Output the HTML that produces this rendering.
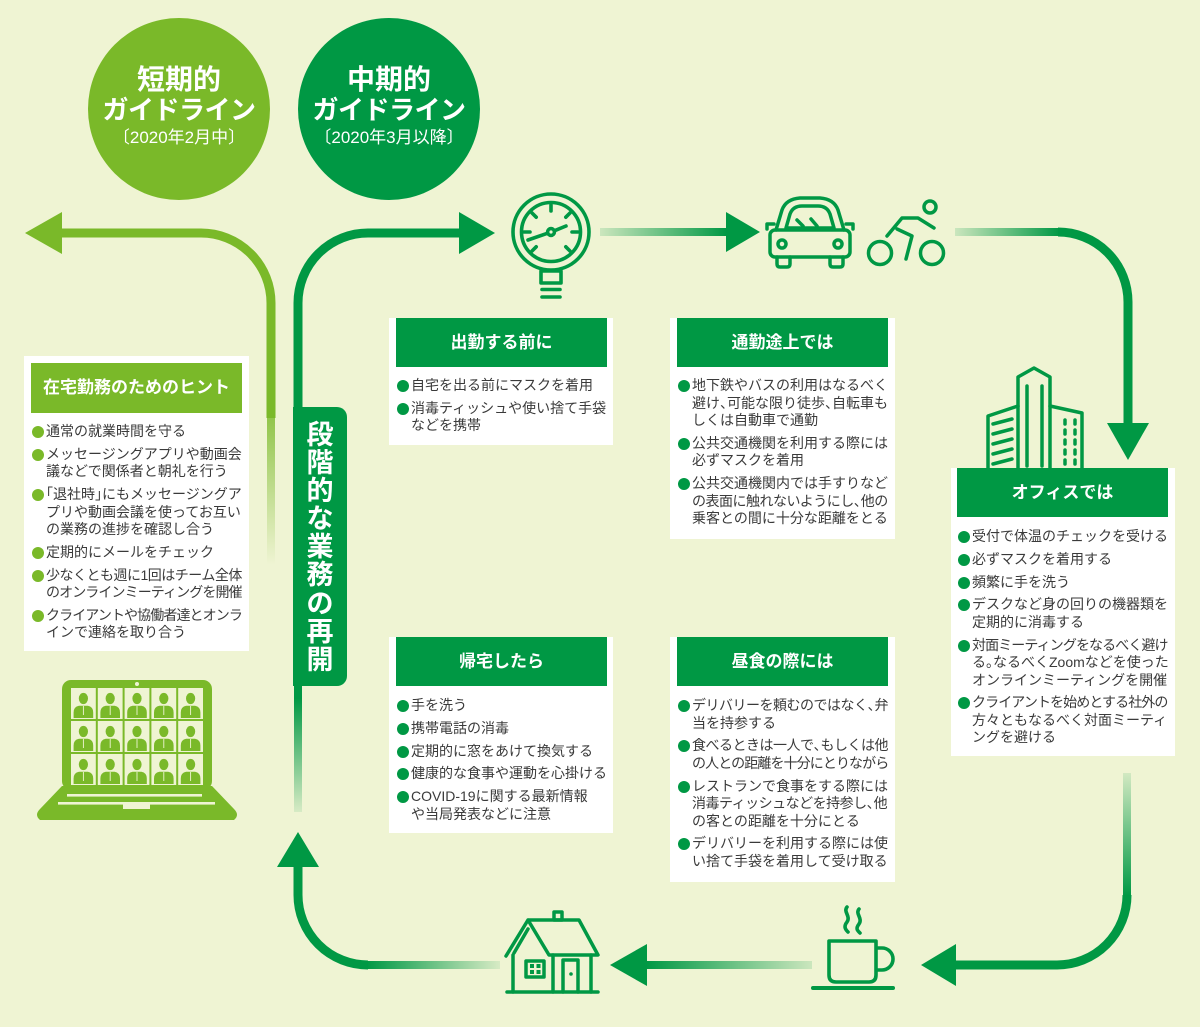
<!DOCTYPE html>
<html lang="ja">
<head>
<meta charset="utf-8">
<style>
  html,body{margin:0;padding:0;}
  body{width:1200px;height:1027px;position:relative;overflow:hidden;background:#eff4d3;
       font-family:"Liberation Sans","Noto Sans CJK JP",sans-serif;}
  svg.bg{position:absolute;left:0;top:0;}
  .ct{position:absolute;width:182px;text-align:center;color:#fff;white-space:nowrap;}
  .c1{font-size:28px;line-height:32px;font-weight:bold;top:64px;}
  .c2{font-size:26px;line-height:30px;font-weight:bold;top:95px;letter-spacing:-0.5px;}
  .c3{font-size:17px;line-height:20px;top:128px;}
  .box{position:absolute;background:#fff;}
  .hd{position:absolute;left:7px;width:211px;top:0;height:49px;line-height:49px;background:#009844;color:#fff;
      font-weight:bold;font-size:17px;text-align:center;white-space:nowrap;}
  .lst{position:absolute;left:22px;font-size:14px;line-height:17.5px;color:#3a3a3a;white-space:nowrap;}
  .lst div{position:relative;margin-bottom:5.3px;}
  .lst div::before{content:"";position:absolute;left:-14px;top:3px;width:12px;height:12px;border-radius:50%;background:#009844;}
  .lg div::before{background:#7ab929;}
  i.c{font-style:normal;letter-spacing:-0.5em;}
  i.o{font-style:normal;margin-left:-0.5em;}
  .t{letter-spacing:-0.9px;}
  .t2{letter-spacing:-0.5px;}
  .lab{position:absolute;left:293px;top:407px;width:54px;height:279px;background:#009844;border-radius:0 10px 10px 0;}
  .lab span{display:block;text-align:center;color:#fff;font-weight:bold;font-size:27px;line-height:28.1px;}
</style>
</head>
<body>
<svg class="bg" width="1200" height="1027" viewBox="0 0 1200 1027" xmlns="http://www.w3.org/2000/svg">
  <defs>
    <linearGradient id="gL" gradientUnits="userSpaceOnUse" x1="0" y1="418" x2="0" y2="565">
      <stop offset="0" stop-color="#7ab929" stop-opacity="0.8"/>
      <stop offset="1" stop-color="#7ab929" stop-opacity="0"/>
    </linearGradient>
    <linearGradient id="gDv" gradientUnits="userSpaceOnUse" x1="0" y1="698" x2="0" y2="812">
      <stop offset="0" stop-color="#009844" stop-opacity="1"/>
      <stop offset="1" stop-color="#009844" stop-opacity="0.1"/>
    </linearGradient>
    <linearGradient id="gH1" gradientUnits="userSpaceOnUse" x1="600" y1="0" x2="727" y2="0">
      <stop offset="0" stop-color="#009844" stop-opacity="0.15"/>
      <stop offset="1" stop-color="#009844" stop-opacity="1"/>
    </linearGradient>
    <linearGradient id="gH2" gradientUnits="userSpaceOnUse" x1="955" y1="0" x2="1060" y2="0">
      <stop offset="0" stop-color="#009844" stop-opacity="0.15"/>
      <stop offset="1" stop-color="#009844" stop-opacity="1"/>
    </linearGradient>
    <linearGradient id="gV2" gradientUnits="userSpaceOnUse" x1="0" y1="773" x2="0" y2="896">
      <stop offset="0" stop-color="#009844" stop-opacity="0.12"/>
      <stop offset="1" stop-color="#009844" stop-opacity="1"/>
    </linearGradient>
    <linearGradient id="gH3" gradientUnits="userSpaceOnUse" x1="646" y1="0" x2="812" y2="0">
      <stop offset="0" stop-color="#009844" stop-opacity="1"/>
      <stop offset="1" stop-color="#009844" stop-opacity="0.15"/>
    </linearGradient>
    <linearGradient id="gH4" gradientUnits="userSpaceOnUse" x1="367" y1="0" x2="500" y2="0">
      <stop offset="0" stop-color="#009844" stop-opacity="1"/>
      <stop offset="1" stop-color="#009844" stop-opacity="0.1"/>
    </linearGradient>
    <g id="pp">
      <ellipse cx="12.4" cy="10.5" rx="4.6" ry="5.6" fill="#7ab929"/>
      <path d="M2.6 30 V24.5 Q2.6 18.8 8 17.8 L16.8 17.8 Q22.2 18.8 22.2 24.5 V30 Z" fill="#7ab929"/>
      <path d="M12.4 18 V27" stroke="#eff4d3" stroke-width="0.9"/>
    </g>
  </defs>

  <!-- circles -->
  <circle cx="179" cy="109" r="91" fill="#7ab929"/>
  <circle cx="389" cy="109" r="91" fill="#009844"/>

  <!-- light green arrow (left) -->
  <path d="M60 233 H201 A70 70 0 0 1 271 303 V418" fill="none" stroke="#7ab929" stroke-width="9"/>
  <path d="M271 418 V565" fill="none" stroke="url(#gL)" stroke-width="8"/>
  <polygon points="25,233 62,212 62,254" fill="#7ab929"/>

  <!-- dark green arrow top -->
  <path d="M298 408 V303 A70 70 0 0 1 368 233 H461" fill="none" stroke="#009844" stroke-width="9"/>
  <polygon points="495,233 459,212 459,254" fill="#009844"/>
  <path d="M298 685 V699" fill="none" stroke="#009844" stroke-width="8"/>
  <path d="M298 698 V812" fill="none" stroke="url(#gDv)" stroke-width="8"/>

  <!-- bottom-left curve up -->
  <polygon points="298,832 277,867 319,867" fill="#009844"/>
  <path d="M298 865 V895 A70 70 0 0 0 368 965" fill="none" stroke="#009844" stroke-width="9"/>
  <path d="M367 965 H500" fill="none" stroke="url(#gH4)" stroke-width="8"/>

  <!-- gauge -> car -->
  <path d="M600 232 H728" fill="none" stroke="url(#gH1)" stroke-width="8"/>
  <polygon points="760,232 726,212 726,252" fill="#009844"/>

  <!-- bike -> office -->
  <path d="M955 232 H1060" fill="none" stroke="url(#gH2)" stroke-width="8"/>
  <path d="M1058 232 A70 70 0 0 1 1128 302 V424" fill="none" stroke="#009844" stroke-width="9"/>
  <polygon points="1128,460 1107,423 1149,423" fill="#009844"/>

  <!-- office -> cup -->
  <path d="M1127 773 V896" fill="none" stroke="url(#gV2)" stroke-width="8"/>
  <path d="M1127 895 A70 70 0 0 1 1057 965 H954" fill="none" stroke="#009844" stroke-width="9"/>
  <polygon points="921,965 956,944 956,986" fill="#009844"/>

  <!-- cup -> house -->
  <path d="M645 965 H812" fill="none" stroke="url(#gH3)" stroke-width="8"/>
  <polygon points="610,965 647,944 647,986" fill="#009844"/>

  <!-- gauge icon -->
  <g fill="none" stroke="#009844" stroke-width="3.6" stroke-linecap="round" stroke-linejoin="round">
    <circle cx="551" cy="232" r="38"/>
    <circle cx="551" cy="232" r="29.5"/>
    <path d="M551 205 V211 M572 232 H578 M524 232 H530 M565.8 217.2 L570.1 212.9 M536.2 217.2 L531.9 212.9 M565.8 246.8 L570.1 251.1 M536.2 246.8 L531.9 251.1"/>
    <path d="M528 240 L547.7 233.2 M554.3 230.8 L566 226"/>
    <circle cx="551" cy="232" r="3.4"/>
    <rect x="541" y="271" width="20" height="12"/>
    <path d="M542 289.5 H560 M542 297 H560"/>
  </g>

  <!-- car icon -->
  <g fill="none" stroke="#009844" stroke-width="3.5" stroke-linecap="round" stroke-linejoin="round">
    <path d="M776 230 L782 210 Q786 199 800 198 L820 198 Q834 199 838 210 L844 230"/>
    <path d="M786 228 L790 214 Q793 206 802 206 L818 206 Q827 206 830 214 L834 228 Z"/>
    <path d="M797 220 L803 226 M811 219 L817 226"/>
    <rect x="770" y="230" width="80" height="27" rx="5"/>
    <path d="M774 224 H767 V229 M846 224 H853 V229"/>
    <circle cx="782" cy="244" r="4"/>
    <circle cx="838" cy="244" r="4"/>
    <path d="M777 257 V264 Q777 267 780 267 H787 Q790 267 790 264 V257 M830 257 V264 Q830 267 833 267 H840 Q843 267 843 264 V257"/>
  </g>

  <!-- bicycle icon -->
  <g fill="none" stroke="#009844" stroke-width="3.5" stroke-linecap="round" stroke-linejoin="round">
    <circle cx="880" cy="253" r="11.5"/>
    <circle cx="932" cy="253" r="11.5"/>
    <circle cx="930" cy="207" r="6"/>
    <path d="M887 236 L902 218 L918 218 L934 228"/>
    <path d="M897 229 L912 236 L906 259"/>
  </g>

  <!-- building icon -->
  <g fill="none" stroke="#009844" stroke-width="3.5" stroke-linecap="round" stroke-linejoin="round">
    <path d="M988 468 V416 L1018 406"/>
    <path d="M993 424 L1012 419 M993 434 L1012 429 M993 444 L1012 439 M993 454 L1012 449 M993 464 L1012 459"/>
    <path d="M1018 468 V377 L1034 368 L1050 377 V468"/>
    <path d="M1027 386 V466 M1042 386 V466"/>
    <path d="M1050 406 L1082 413 V468"/>
    <path d="M1065 420 V424 M1075 420 V424 M1065 430 V434 M1075 430 V434 M1065 440 V444 M1075 440 V444 M1065 450 V454 M1075 450 V454 M1065 460 V464 M1075 460 V464"/>
  </g>

  <!-- house icon -->
  <g fill="none" stroke="#009844" stroke-width="3.5" stroke-linecap="round" stroke-linejoin="round">
    <rect x="554" y="912" width="8" height="8"/>
    <path d="M528 920 H579 L598 955 H549 L528 920 L506 956"/>
    <path d="M528 929 L514 953"/>
    <path d="M513 955 V992 M553 955 V992 M591 955 V992"/>
    <path d="M507 992 H598"/>
    <rect x="526" y="961" width="18" height="16"/>
    <path d="M563 992 V960 H578 V992"/>
  </g>
  <g fill="#009844">
    <rect x="530" y="964" width="4" height="4"/><rect x="536.5" y="964" width="4" height="4"/>
    <rect x="530" y="970" width="4" height="4"/><rect x="536.5" y="970" width="4" height="4"/>
    <circle cx="571" cy="974" r="1.8"/>
  </g>

  <!-- cup icon -->
  <g fill="none" stroke="#009844" stroke-width="3.6" stroke-linecap="round" stroke-linejoin="round">
    <path d="M829 941 H876 V975 Q876 982 869 982 H836 Q829 982 829 975 Z"/>
    <path d="M877 948 H882 A11 11 0 0 1 882 970 H877"/>
    <path d="M813 988 H893" stroke-width="4"/>
    <path d="M847 907 C843 912, 851 916, 847 922 C843 927, 846 930, 848 932"/>
    <path d="M859 909 C855 914, 863 918, 859 924 C855 929, 858 931, 860 933"/>
  </g>

  <!-- laptop -->
  <rect x="62" y="680" width="150" height="110" rx="9" fill="#7ab929"/>
  <circle cx="137" cy="684" r="2" fill="#eff4d3"/>
  <g fill="#eff4d3">
    <rect x="71" y="688" width="24.8" height="31"/><rect x="97.8" y="688" width="24.8" height="31"/><rect x="124.6" y="688" width="24.8" height="31"/><rect x="151.4" y="688" width="24.8" height="31"/><rect x="178.2" y="688" width="24.8" height="31"/>
    <rect x="71" y="721" width="24.8" height="31"/><rect x="97.8" y="721" width="24.8" height="31"/><rect x="124.6" y="721" width="24.8" height="31"/><rect x="151.4" y="721" width="24.8" height="31"/><rect x="178.2" y="721" width="24.8" height="31"/>
    <rect x="71" y="754" width="24.8" height="31"/><rect x="97.8" y="754" width="24.8" height="31"/><rect x="124.6" y="754" width="24.8" height="31"/><rect x="151.4" y="754" width="24.8" height="31"/><rect x="178.2" y="754" width="24.8" height="31"/>
  </g>
  <use href="#pp" x="71" y="688"/><use href="#pp" x="97.8" y="688"/><use href="#pp" x="124.6" y="688"/><use href="#pp" x="151.4" y="688"/><use href="#pp" x="178.2" y="688"/>
  <use href="#pp" x="71" y="721"/><use href="#pp" x="97.8" y="721"/><use href="#pp" x="124.6" y="721"/><use href="#pp" x="151.4" y="721"/><use href="#pp" x="178.2" y="721"/>
  <use href="#pp" x="71" y="754"/><use href="#pp" x="97.8" y="754"/><use href="#pp" x="124.6" y="754"/><use href="#pp" x="151.4" y="754"/><use href="#pp" x="178.2" y="754"/>
  <path d="M62 786 L212 786 L234 809 Q240 815 234 820 L40 820 Q34 815 40 809 Z" fill="#7ab929"/>
  <rect x="67" y="794" width="135" height="2.6" fill="#eff4d3"/>
  <rect x="58" y="802" width="157" height="2.6" fill="#eff4d3"/>
  <rect x="123" y="802" width="27" height="7" fill="#eff4d3"/>
</svg>

<!-- circle texts -->
<div class="ct c1" style="left:88px">短期的</div>
<div class="ct c2" style="left:88px">ガイドライン</div>
<div class="ct c3" style="left:88px">〔2020年2月中〕</div>
<div class="ct c1" style="left:298px">中期的</div>
<div class="ct c2" style="left:298px">ガイドライン</div>
<div class="ct c3" style="left:298px">〔2020年3月以降〕</div>

<!-- vertical label -->
<div class="lab"><div style="position:absolute;left:0;top:14px;width:54px;">
<span>段</span><span>階</span><span>的</span><span>な</span><span>業</span><span>務</span><span>の</span><span>再</span><span>開</span>
</div></div>

<!-- left box -->
<div class="box" style="left:24px;top:356px;width:225px;height:295px;">
  <div class="hd" style="top:7px;height:50px;line-height:50px;background:#7ab929;">在宅勤務のためのヒント</div>
  <div class="lst lg" style="top:67px;">
    <div>通常の就業時間を守る</div>
    <div>メッセージングアプリや動画会<br>議などで関係者と朝礼を行う</div>
    <div><i class="o">「</i>退社時<i class="c">」</i>にもメッセージングア<br>プリや動画会議を使ってお互い<br>の業務の進捗を確認し合う</div>
    <div>定期的にメールをチェック</div>
    <div><span class="t2">少なくとも週に1回はチーム全体</span><br><span class="t">のオンラインミーティングを開催</span></div>
    <div><span class="t">クライアントや協働者達とオンラ</span><br>インで連絡を取り合う</div>
  </div>
</div>

<!-- 出勤する前に -->
<div class="box" style="left:389px;top:318px;width:224px;height:127px;">
  <div class="hd">出勤する前に</div>
  <div class="lst" style="top:59px;">
    <div>自宅を出る前にマスクを着用</div>
    <div>消毒ティッシュや使い捨て手袋<br>などを携帯</div>
  </div>
</div>

<!-- 通勤途上では -->
<div class="box" style="left:670px;top:318px;width:225px;height:221px;">
  <div class="hd">通勤途上では</div>
  <div class="lst" style="top:59px;">
    <div>地下鉄やバスの利用はなるべく<br>避け<i class="c">、</i>可能な限り徒歩<i class="c">、</i>自転車も<br>しくは自動車で通勤</div>
    <div>公共交通機関を利用する際には<br>必ずマスクを着用</div>
    <div>公共交通機関内では手すりなど<br><span class="t2">の表面に触れないようにし<i class="c">、</i>他の</span><br>乗客との間に十分な距離をとる</div>
  </div>
</div>

<!-- 帰宅したら -->
<div class="box" style="left:389px;top:637px;width:224px;height:196px;">
  <div class="hd">帰宅したら</div>
  <div class="lst" style="top:60px;">
    <div>手を洗う</div>
    <div>携帯電話の消毒</div>
    <div>定期的に窓をあけて換気する</div>
    <div>健康的な食事や運動を心掛ける</div>
    <div>COVID-19に関する最新情報<br>や当局発表などに注意</div>
  </div>
</div>

<!-- 昼食の際には -->
<div class="box" style="left:670px;top:637px;width:225px;height:245px;">
  <div class="hd">昼食の際には</div>
  <div class="lst" style="top:60px;">
    <div><span class="t2">デリバリーを頼むのではなく<i class="c">、</i>弁</span><br>当を持参する</div>
    <div><span class="t2">食べるときは一人で<i class="c">、</i>もしくは他</span><br><span class="t">の人との距離を十分にとりながら</span></div>
    <div>レストランで食事をする際には<br><span class="t2">消毒ティッシュなどを持参し<i class="c">、</i>他</span><br>の客との距離を十分にとる</div>
    <div>デリバリーを利用する際には使<br>い捨て手袋を着用して受け取る</div>
  </div>
</div>

<!-- オフィスでは -->
<div class="box" style="left:951px;top:468px;width:224px;height:288px;">
  <div class="hd" style="left:6px;">オフィスでは</div>
  <div class="lst" style="top:60px;left:21px;">
    <div>受付で体温のチェックを受ける</div>
    <div>必ずマスクを着用する</div>
    <div>頻繁に手を洗う</div>
    <div>デスクなど身の回りの機器類を<br>定期的に消毒する</div>
    <div><span class="t">対面ミーティングをなるべく避け</span><br>る<i class="c">。</i>なるべくZoomなどを使った<br>オンラインミーティングを開催</div>
    <div><span class="t">クライアントを始めとする社外の</span><br>方々ともなるべく対面ミーティ<br>ングを避ける</div>
  </div>
</div>
</body>
</html>
